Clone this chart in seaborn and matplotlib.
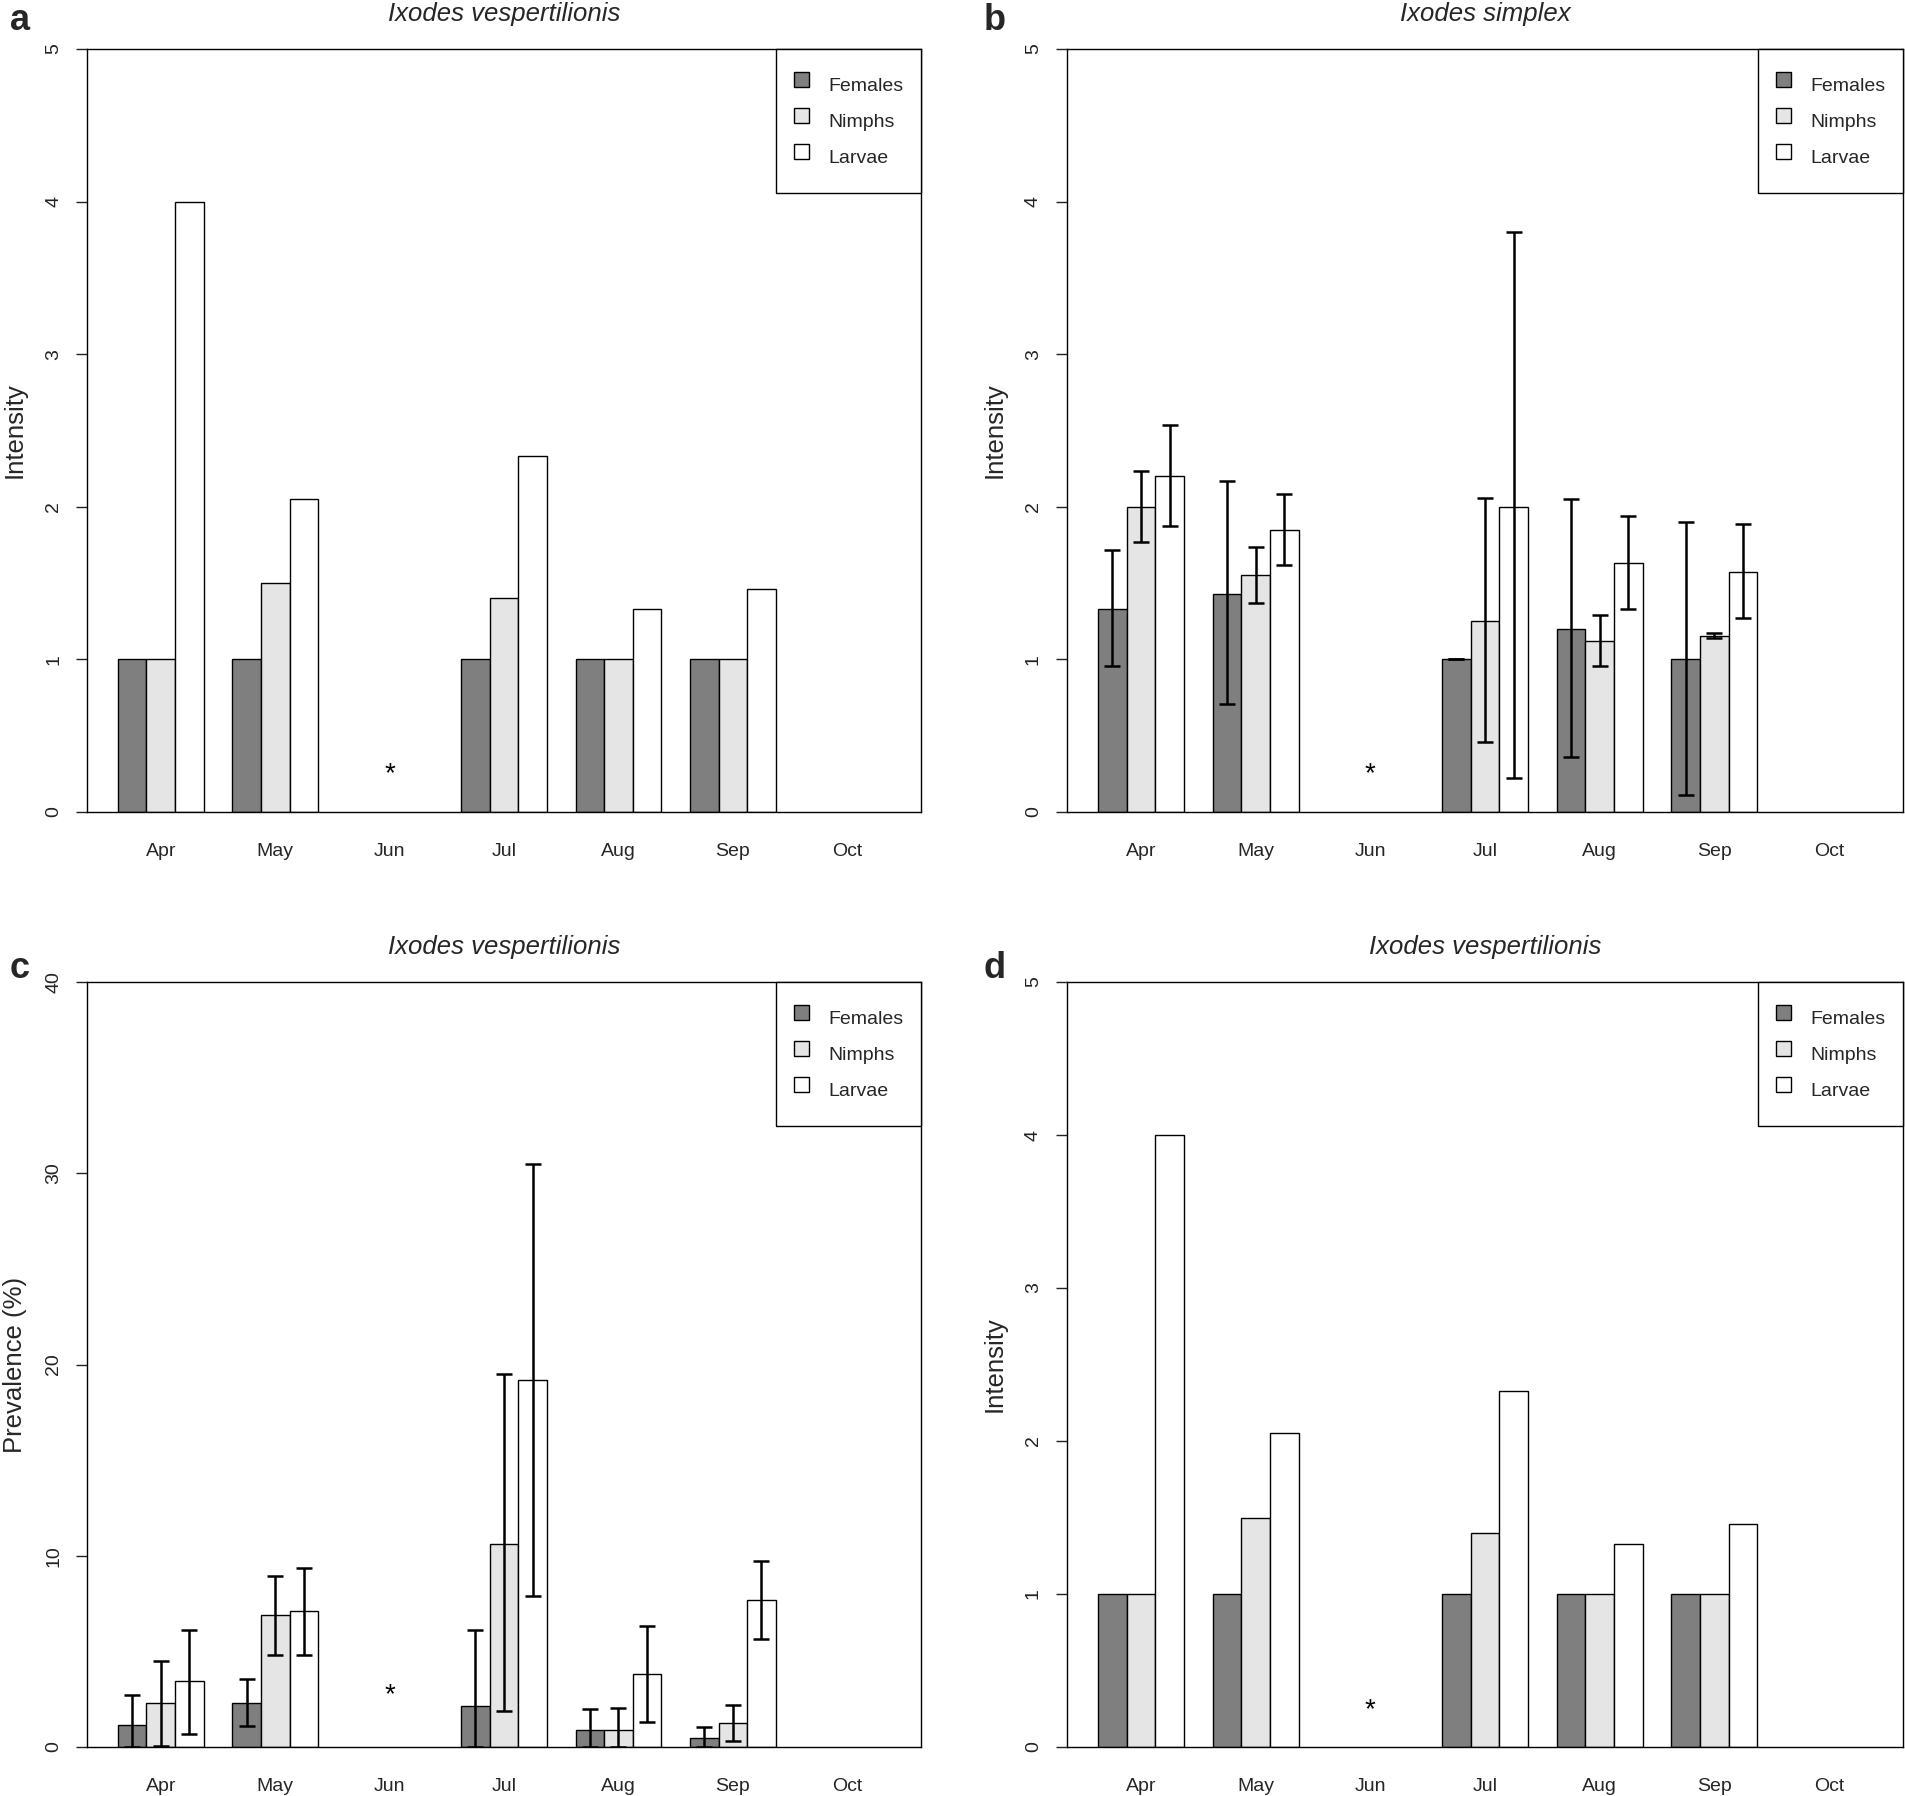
import numpy as np
import pandas as pd
import seaborn as sns
import matplotlib.pyplot as plt
from matplotlib.lines import Line2D

nan = np.nan

# Meses y estadios
months = ['Apr', 'May', 'Jun', 'Jul', 'Aug', 'Sep', 'Oct']
stages = ['Females', 'Nimphs', 'Larvae']
colors = {'Females': '#7f7f7f', 'Nimphs': '#e5e5e5', 'Larvae': '#ffffff'}

# a / d : Ixodes vespertilionis, intensidad
ves_int_females = [1, 1, nan, 1, 1, 1, nan]
ves_int_nimphs = [1, 1.5, nan, 1.4, 1, 1, nan]
ves_int_larvae = [4, 2.05, nan, 2.33, 1.33, 1.46, nan]

# b : Ixodes simplex, intensidad con intervalos
sim_int_females = [1.33, 1.43, nan, 1.0, 1.2, 1.0, nan]
sim_int_nimphs = [2.0, 1.55, nan, 1.25, 1.12, 1.155, nan]
sim_int_larvae = [2.2, 1.85, nan, 2.0, 1.63, 1.57, nan]
sim_lo_females = [0.955, 0.71, nan, 1.0, 0.36, 0.11, nan]
sim_hi_females = [1.72, 2.17, nan, 1.0, 2.05, 1.90, nan]
sim_lo_nimphs = [1.77, 1.37, nan, 0.46, 0.955, 1.142, nan]
sim_hi_nimphs = [2.235, 1.735, nan, 2.06, 1.29, 1.17, nan]
sim_lo_larvae = [1.875, 1.62, nan, 0.22, 1.33, 1.27, nan]
sim_hi_larvae = [2.535, 2.085, nan, 3.80, 1.94, 1.885, nan]

# c : Ixodes vespertilionis, prevalencia (%) con intervalos
ves_prev_females = [1.14, 2.28, nan, 2.16, 0.87, 0.48, nan]
ves_prev_nimphs = [2.28, 6.89, nan, 10.6, 0.87, 1.23, nan]
ves_prev_larvae = [3.45, 7.10, nan, 19.18, 3.81, 7.67, nan]
ves_lo_females = [0, 1.08, nan, 0, 0, 0, nan]
ves_hi_females = [2.70, 3.54, nan, 6.14, 1.98, 1.02, nan]
ves_lo_nimphs = [0.06, 4.79, nan, 1.86, 0, 0.30, nan]
ves_hi_nimphs = [4.49, 8.96, nan, 19.48, 2.04, 2.19, nan]
ves_lo_larvae = [0.69, 4.79, nan, 7.88, 1.32, 5.63, nan]
ves_hi_larvae = [6.14, 9.38, nan, 30.5, 6.35, 9.74, nan]


def make_df(vals, lo=None, hi=None):
    df = pd.DataFrame({
        'month': months * 3,
        'stage': np.repeat(stages, len(months)),
        'value': np.concatenate(vals),
    })
    if lo is not None:
        df['lo'] = np.concatenate(lo)
        df['hi'] = np.concatenate(hi)
    return df


sns.set_style('white')
plt.rcParams['font.family'] = ['Liberation Sans', 'DejaVu Sans']

fig = plt.figure(figsize=(19.06, 17.96), dpi=100)
pos = {
    'a': [0.04565, 0.54788, 0.43757, 0.42483],
    'b': [0.5598, 0.54788, 0.43862, 0.42483],
    'c': [0.04565, 0.02728, 0.43757, 0.42595],
    'd': [0.5598, 0.02728, 0.43862, 0.42595],
}

# (letra, titulo, eje y, maximo, paso, altura del asterisco, datos)
panels = [
    ('a', 'Ixodes vespertilionis', 'Intensity', 5, 1, 0.25,
     make_df([ves_int_females, ves_int_nimphs, ves_int_larvae])),
    ('b', 'Ixodes simplex', 'Intensity', 5, 1, 0.25,
     make_df([sim_int_females, sim_int_nimphs, sim_int_larvae],
             [sim_lo_females, sim_lo_nimphs, sim_lo_larvae],
             [sim_hi_females, sim_hi_nimphs, sim_hi_larvae])),
    ('c', 'Ixodes vespertilionis', 'Prevalence (%)', 40, 10, 2.7,
     make_df([ves_prev_females, ves_prev_nimphs, ves_prev_larvae],
             [ves_lo_females, ves_lo_nimphs, ves_lo_larvae],
             [ves_hi_females, ves_hi_nimphs, ves_hi_larvae])),
    ('d', 'Ixodes vespertilionis', 'Intensity', 5, 1, 0.24,
     make_df([ves_int_females, ves_int_nimphs, ves_int_larvae])),
]

for letter, title, ylab, ymax, step, star_y, df in panels:
    ax = fig.add_axes(pos[letter])
    sns.barplot(data=df, x='month', y='value', hue='stage', order=months,
                hue_order=stages, palette=colors, saturation=1, width=0.75,
                edgecolor='black', linewidth=1, errorbar=None, legend=False, ax=ax)

    # barras de error a partir de las posiciones de las barras
    if 'lo' in df.columns:
        for bar in list(ax.patches):
            xc = bar.get_x() + bar.get_width() / 2
            mi = int(round(xc))
            si = int(round((xc - mi) / 0.25)) + 1
            row = df[(df['month'] == months[mi]) & (df['stage'] == stages[si])].iloc[0]
            if np.isnan(row['value']):
                continue
            ax.errorbar(xc, row['value'],
                        yerr=[[row['value'] - row['lo']], [row['hi'] - row['value']]],
                        fmt='none', ecolor='black', elinewidth=1.8,
                        capsize=6, capthick=1.8, zorder=5)

    # asterisco en junio (sin muestreo)
    ax.text(months.index('Jun'), star_y, '*', ha='center', va='center',
            fontsize=20, color='black')

    ticks = np.arange(0, ymax + step, step)
    ax.set_xlim(-0.645, 6.645)
    ax.set_ylim(0, ymax)
    ax.set_yticks(ticks)
    ax.set_yticklabels([f'{int(t)}' for t in ticks])
    ax.tick_params(axis='y', left=True, length=8, width=1, direction='out',
                   pad=10, labelsize=14, labelrotation=90, colors='#222222')
    for lab in ax.get_yticklabels():
        lab.set_va('center')
    ax.tick_params(axis='x', bottom=False, pad=19, labelsize=14)
    for sp in ax.spines.values():
        sp.set_visible(True)
        sp.set_color('black')
        sp.set_linewidth(1)

    ax.set_xlabel('')
    ax.set_ylabel(ylab, fontsize=18.5)
    ax.yaxis.set_label_coords(-0.072, 0.5)
    ax.set_title(title, fontsize=18.5, style='italic', pad=20)

    handles = [Line2D([], [], marker='s', linestyle='none', markersize=10.8,
                      markerfacecolor=colors[s], markeredgecolor='black',
                      markeredgewidth=1) for s in stages]
    leg = ax.legend(handles, stages, loc='upper right', bbox_to_anchor=(1, 1),
                    borderaxespad=0, fontsize=14, frameon=True, fancybox=False,
                    framealpha=1, edgecolor='black', handlelength=0.77,
                    handleheight=2.5, handletextpad=1.0, labelspacing=0.0,
                    borderpad=0.9)
    leg.get_frame().set_linewidth(1)

    bx = 20 if letter in 'ac' else 995
    by = 20 if letter in 'ab' else 969
    fig.text(bx / 1906, 1 - by / 1796, letter, ha='center', va='center',
             fontsize=26, fontweight='bold')

fig.savefig('out.png', dpi=100)
